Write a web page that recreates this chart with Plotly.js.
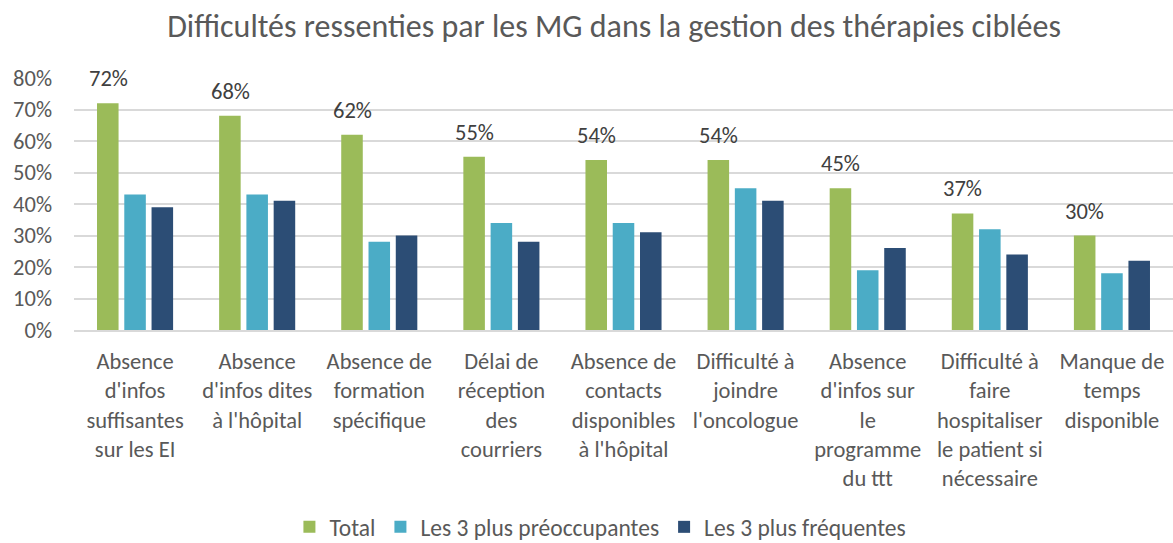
<!DOCTYPE html>
<html>
<head>
<meta charset="utf-8">
<script src="https://cdn.plot.ly/plotly-3.0.1.min.js"></script>
<style>html,body{margin:0;padding:0;background:#fff;}#chart{width:1173px;height:543px;}</style>
</head>
<body>
<div id="chart"></div>
<script>
const categories = [
  "Absence<br>d'infos<br>suffisantes<br>sur les EI",
  "Absence<br>d'infos dites<br>à l'hôpital",
  "Absence de<br>formation<br>spécifique",
  "Délai de<br>réception<br>des<br>courriers",
  "Absence de<br>contacts<br>disponibles<br>à l'hôpital",
  "Difficulté à<br>joindre<br>l'oncologue",
  "Absence<br>d'infos sur<br>le<br>programme<br>du ttt",
  "Difficulté à<br>faire<br>hospitaliser<br>le patient si<br>nécessaire",
  "Manque de<br>temps<br>disponible"
];
const total = [72, 68, 62, 55, 54, 54, 45, 37, 30];
const preoccupantes = [43, 43, 28, 34, 34, 45, 19, 32, 18];
const frequentes = [39, 41, 30, 28, 31, 41, 26, 24, 22];
const seriesNames = ["Total", "Les 3 plus préoccupantes", "Les 3 plus fréquentes"];
const yTicks = [0, 10, 20, 30, 40, 50, 60, 70, 80];

const FONT = "Carlito, Calibri, Lato, sans-serif";
const TXT = "#595959";
const colors = ["#9BBB59", "#4BACC6", "#2C4D75"];
const FS = 22.5;

const traces = [total, preoccupantes, frequentes].map((vals, i) => ({
  type: "bar",
  x: categories,
  y: vals,
  name: seriesNames[i],
  marker: {color: colors[i], line: {width: 0}},
  hoverinfo: "none"
}));

const annotations = categories.map((c, i) => ({
  x: c, y: total[i], xref: "x", yref: "y",
  text: total[i] + "%",
  showarrow: false,
  xanchor: "center", yanchor: "bottom",
  xshift: -27, yshift: 9,
  font: {family: FONT, size: FS, color: "#404040"}
}));

const layout = {
  width: 1173, height: 543,
  margin: {l: 74, r: 0, t: 78, b: 213, autoexpand: false},
  paper_bgcolor: "#fff", plot_bgcolor: "#fff",
  font: {family: FONT, color: TXT, size: FS},
  title: {
    text: "Difficultés ressenties par les MG dans la gestion des thérapies ciblées",
    font: {family: FONT, size: 32, color: TXT},
    x: 0.5235, xanchor: "center", xref: "container",
    y: 0.953, yanchor: "middle", yref: "container"
  },
  barmode: "group",
  bargap: 0.33,
  bargroupgap: 0.21,
  showlegend: true,
  legend: {
    orientation: "h", x: 0.479, xanchor: "center", y: -0.782, yanchor: "middle",
    font: {family: FONT, size: 23.5, color: TXT},
    itemwidth: 30, traceorder: "normal", bgcolor: "rgba(0,0,0,0)"
  },
  xaxis: {
    type: "category",
    showgrid: false,
    showline: true, linecolor: "#d9d9d9", linewidth: 2,
    ticks: "", tickfont: {family: FONT, size: FS, color: TXT},
    ticklabelstandoff: 10,
    automargin: false,
    fixedrange: true
  },
  yaxis: {
    range: [0, 80],
    tickvals: yTicks,
    ticktext: yTicks.map(v => v + "%"),
    showgrid: true, gridcolor: "#d9d9d9", gridwidth: 2,
    zeroline: false, showline: false,
    ticks: "", tickfont: {family: FONT, size: FS, color: TXT},
    ticklabelstandoff: 21,
    automargin: false,
    fixedrange: true
  },
  annotations: annotations
};

Plotly.newPlot("chart", traces, layout, {displayModeBar: false, staticPlot: true});
</script>
</body>
</html>
